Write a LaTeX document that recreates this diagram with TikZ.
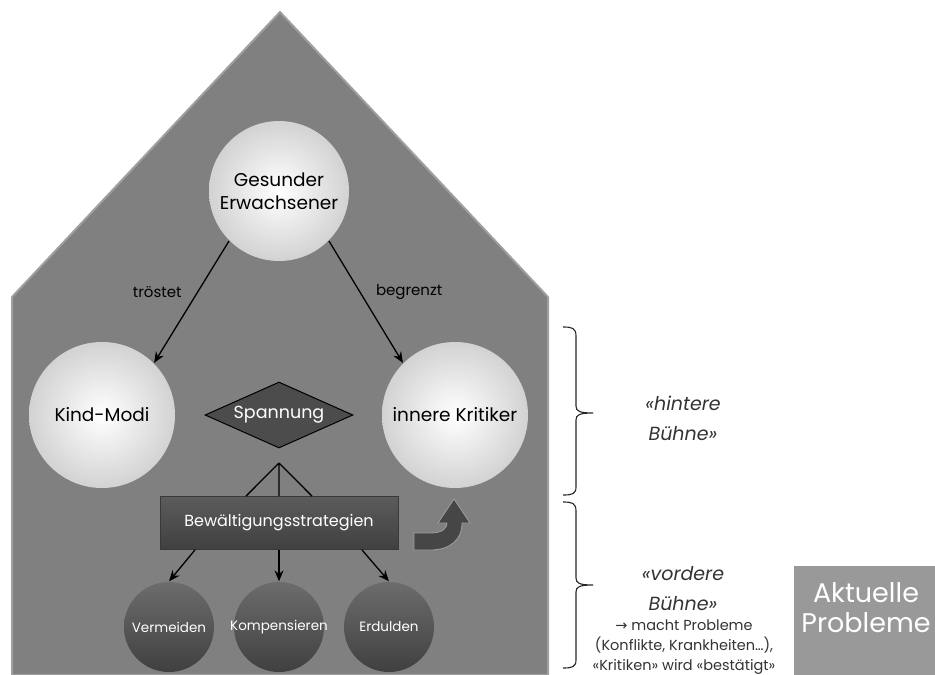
\documentclass[tikz,border=0pt]{standalone}
\usepackage{fontspec}
\setmainfont{Poppins}
\newfontfamily\arrowfont{DejaVu Sans}
\usepackage{tikz}
\usetikzlibrary{arrows.meta,shapes.geometric,positioning}

\begin{document}
\begin{tikzpicture}[-,>={Stealth[length=11pt,width=9pt]},x=1pt,y=-1pt,
                    line width=1.3pt,node distance=110pt]
  \tikzstyle{lightball}=[circle, inner sep=0pt, minimum size=146pt,
                         inner color=white, outer color=gray!35, align=center,
                         font=\fontsize{18.5}{23}\selectfont]
  \tikzstyle{darkball}=[circle, inner sep=0pt, minimum size=90pt,
                        top color=gray!85!black, bottom color=gray!50!black,
                        text=white, font=\fontsize{13.5}{16}\selectfont]
  \tikzstyle{stagetext}=[align=center, text=black!80,
                         font=\itshape\fontsize{19}{30}\selectfont]
  \tikzstyle{bracket}=[black!85, line width=1.1pt]

  \useasboundingbox (0,0) rectangle (935,675);

  % Haus
  \draw[fill=gray, draw=gray!75, line width=2pt]
    (12,675) -- (12,297) -- (280,12) -- (548,297) -- (548,675) -- cycle;

  \node[lightball, minimum size=140pt] (ge) at (279,191) {Gesunder\\Erwachsener};
  \node[diamond, draw=black, line width=1pt, fill=gray!60!black, text=white,
        minimum width=148pt, minimum height=66pt, inner sep=0pt, aspect=2.2,
        font=\fontsize{17.5}{20}\selectfont]
                     (sp) [below of=ge, node distance=224pt] {Spannung};
  \node[lightball]   (km) [left of=sp, node distance=177pt]  {Kind-Modi};
  \node[lightball]   (ik) [right of=sp, node distance=176pt] {innere Kritiker};
  \node[rectangle, top color=gray!72!black, bottom color=gray!50!black,
        draw=gray!45!black, line width=0.8pt, text=white,
        minimum width=238pt, minimum height=53pt,
        font=\fontsize{16}{20}\selectfont]
                     (bw) [below of=sp, node distance=108pt] {Bewältigungsstrategien};
  \node[darkball]    (ko) [below of=bw, node distance=104pt] {\makebox[0pt]{Kompensieren}};
  \node[darkball]    (ve) [left of=ko]  {Vermeiden};
  \node[darkball]    (er) [right of=ko] {Erdulden};
  \node[coordinate]  (split) [below of=sp, node distance=48pt] {};

  \path[->,font=\fontsize{15}{17}\selectfont]
    (ge.225) edge node[left=12pt, pos=0.42] {tröstet} (km.45)
    (ge.-45) edge node[right=12pt, pos=0.42] {begrenzt} (ik.135);

  \draw (split) -- ([xshift=-33pt]bw.north)
        (split) -- (bw.north)
        (split) -- ([xshift=33pt]bw.north);
  \path[->] ([xshift=-84pt]bw.south) edge (ve.north)
            (bw.south) edge (ko.north)
            ([xshift=83pt]bw.south) edge (er.north);

  % Pfeil nach oben
  \draw[fill=gray!55!black, draw=gray!75, line width=0.8pt]
    (414,533) -- (430,533) .. controls (443,533) and (447,528) .. (447,523)
    -- (438,523) -- (454,499) -- (470,523) -- (462,523)
    .. controls (462,540) and (450,550) .. (430,550) -- (414,550) -- cycle;

  % Klammern
  \draw[bracket] (563,327) .. controls (572,327) and (576,328) .. (576,336)
    -- (576,406) .. controls (576,411) and (579,413) .. (593,413)
    .. controls (579,413) and (576,415) .. (576,420)
    -- (576,487) .. controls (576,494) and (572,495) .. (563,495);
  \draw[bracket] (563,502) .. controls (572,502) and (576,503) .. (576,511)
    -- (576,578) .. controls (576,583) and (579,585) .. (593,585)
    .. controls (579,585) and (576,587) .. (576,592)
    -- (576,660) .. controls (576,667) and (572,668) .. (563,668);

  \node[stagetext] (hb) at (683,418) {«hintere\\Bühne»};
  \node[stagetext] (vb) at (683,589) {«vordere\\Bühne»};
  \node[align=center, text=black!80, font=\fontsize{14.5}{20}\selectfont]
    (mp) at (684,647) {{\arrowfont →} macht Probleme\\(Konflikte, Krankheiten…),\\«Kritiken» wird «bestätigt»};

  \node[fill=gray!80, minimum width=142pt, minimum height=110pt,
        anchor=north west] (ap) at (793,565) {};
  \node[text=white, align=center, font=\fontsize{27}{30}\selectfont]
    (apt) at (866,608) {Aktuelle\\Probleme};
\end{tikzpicture}
\end{document}
